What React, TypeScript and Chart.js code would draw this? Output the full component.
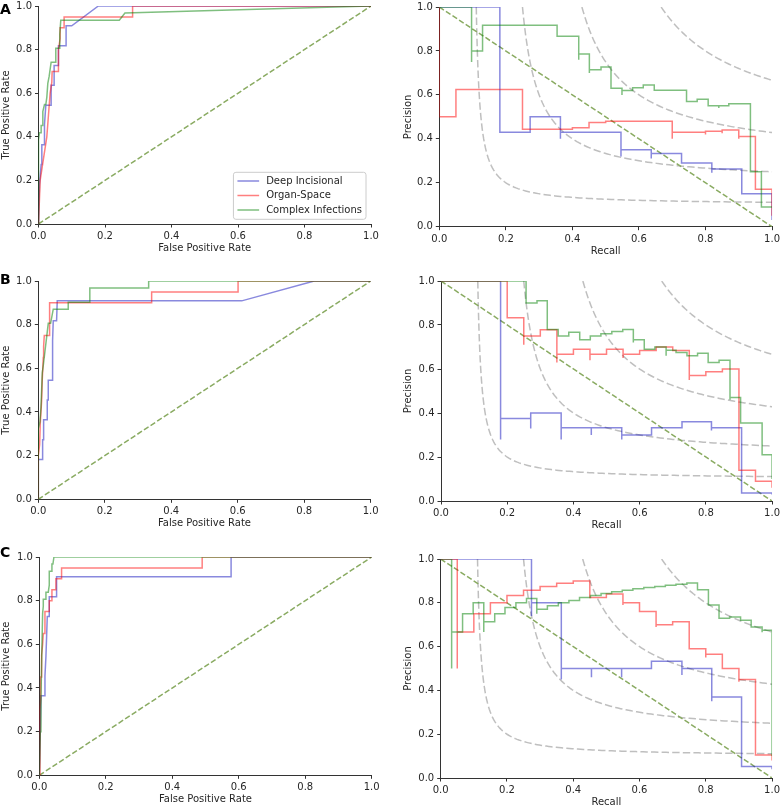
import React, { useEffect, useRef } from 'react';
import { Chart, registerables } from 'chart.js';

Chart.register(...registerables);

type Pt = [number, number];

// ---------- data ----------
const SERIES_LABELS = ['Deep Incisional', 'Organ-Space', 'Complex Infections'];
const AXIS_TICK_STEP = 0.2;
const F1_LEVELS = [0.2, 0.4, 0.6, 0.8];
const ROC_DIAGONAL: Pt[] = [[0, 0], [1, 1]];
const PR_DIAGONAL: Pt[] = [[0, 1], [1, 0]];

// ROC curves: [false positive rate, true positive rate]
const ROC_A_DEEP: Pt[] = [[0, 0], [0.003, 0.182], [0.008, 0.273], [0.01, 0.364], [0.018, 0.364], [0.018, 0.455], [0.022, 0.545], [0.038, 0.545], [0.038, 0.636], [0.047, 0.636], [0.047, 0.727], [0.06, 0.727], [0.06, 0.818], [0.083, 0.818], [0.083, 0.909], [0.1, 0.909], [0.18, 1], [1, 1]];
const ROC_A_ORGAN: Pt[] = [[0, 0], [0.005, 0.2], [0.015, 0.3], [0.025, 0.4], [0.03, 0.5], [0.035, 0.6], [0.04, 0.65], [0.041, 0.7], [0.06, 0.7], [0.06, 0.8], [0.065, 0.85], [0.065, 0.9], [0.077, 0.9], [0.077, 0.95], [0.283, 0.95], [0.283, 1], [1, 1]];
const ROC_A_COMPLEX: Pt[] = [[0, 0], [0, 0.387], [0.003, 0.419], [0.008, 0.419], [0.008, 0.452], [0.012, 0.452], [0.013, 0.516], [0.018, 0.548], [0.022, 0.548], [0.025, 0.581], [0.028, 0.645], [0.032, 0.677], [0.038, 0.742], [0.052, 0.742], [0.052, 0.806], [0.062, 0.806], [0.064, 0.871], [0.067, 0.935], [0.243, 0.935], [0.26, 0.968], [1, 1]];

const ROC_B_DEEP: Pt[] = [[0, 0], [0, 0.182], [0.013, 0.182], [0.013, 0.273], [0.016, 0.273], [0.016, 0.364], [0.027, 0.364], [0.027, 0.455], [0.03, 0.455], [0.03, 0.545], [0.043, 0.545], [0.043, 0.727], [0.045, 0.818], [0.055, 0.818], [0.057, 0.909], [0.612, 0.909], [0.83, 1], [1, 1]];
const ROC_B_ORGAN: Pt[] = [[0, 0], [0, 0.2], [0.004, 0.25], [0.006, 0.35], [0.01, 0.45], [0.012, 0.55], [0.015, 0.65], [0.016, 0.7], [0.018, 0.75], [0.033, 0.75], [0.033, 0.8], [0.035, 0.9], [0.341, 0.9], [0.341, 0.95], [0.601, 0.95], [0.601, 1], [1, 1]];
const ROC_B_COMPLEX: Pt[] = [[0, 0], [0, 0.323], [0.005, 0.355], [0.008, 0.42], [0.012, 0.58], [0.015, 0.613], [0.02, 0.677], [0.025, 0.742], [0.03, 0.806], [0.037, 0.806], [0.045, 0.871], [0.09, 0.871], [0.09, 0.903], [0.153, 0.903], [0.155, 0.968], [0.332, 0.968], [0.332, 1], [1, 1]];

const ROC_C_DEEP: Pt[] = [[0, 0], [0.005, 0.364], [0.017, 0.364], [0.017, 0.455], [0.02, 0.545], [0.022, 0.636], [0.024, 0.727], [0.03, 0.727], [0.03, 0.818], [0.052, 0.818], [0.052, 0.909], [0.577, 0.909], [0.577, 1], [1, 1]];
const ROC_C_ORGAN: Pt[] = [[0, 0], [0.002, 0.3], [0.004, 0.35], [0.004, 0.45], [0.007, 0.45], [0.007, 0.55], [0.01, 0.6], [0.012, 0.65], [0.017, 0.65], [0.017, 0.75], [0.03, 0.75], [0.03, 0.8], [0.038, 0.8], [0.038, 0.85], [0.05, 0.85], [0.05, 0.9], [0.067, 0.9], [0.067, 0.95], [0.49, 0.95], [0.49, 1], [1, 1]];
const ROC_C_COMPLEX: Pt[] = [[0, 0], [0.003, 0.2], [0.005, 0.35], [0.008, 0.6], [0.01, 0.742], [0.012, 0.774], [0.012, 0.806], [0.02, 0.806], [0.02, 0.839], [0.027, 0.839], [0.03, 0.871], [0.03, 0.935], [0.036, 0.935], [0.038, 0.968], [0.041, 0.968], [0.044, 1], [1, 1]];

// Precision-recall curves (step vertices): [recall, precision]
const PR_A_DEEP: Pt[] = [[0, 1], [0.182, 1], [0.182, 0.43], [0.273, 0.43], [0.273, 0.5], [0.364, 0.5], [0.364, 0.4], [0.364, 0.43], [0.546, 0.43], [0.546, 0.32], [0.546, 0.35], [0.637, 0.35], [0.637, 0.31], [0.637, 0.333], [0.728, 0.333], [0.728, 0.29], [0.819, 0.29], [0.819, 0.245], [0.819, 0.263], [0.909, 0.263], [0.909, 0.15], [1, 0.15], [1, 0.03]];
const PR_A_ORGAN: Pt[] = [[0, 1], [0, 0.5], [0.05, 0.5], [0.05, 0.625], [0.25, 0.625], [0.25, 0.444], [0.4, 0.444], [0.4, 0.45], [0.45, 0.45], [0.45, 0.474], [0.5, 0.474], [0.5, 0.48], [0.7, 0.48], [0.7, 0.4], [0.7, 0.43], [0.8, 0.43], [0.8, 0.42], [0.8, 0.435], [0.85, 0.435], [0.85, 0.425], [0.85, 0.44], [0.9, 0.44], [0.9, 0.4], [0.9, 0.41], [0.95, 0.41], [0.95, 0.17], [1, 0.17], [1, 0.05]];
const PR_A_COMPLEX: Pt[] = [[0, 1], [0.097, 1], [0.097, 0.75], [0.097, 0.8], [0.13, 0.8], [0.13, 0.917], [0.354, 0.917], [0.354, 0.867], [0.419, 0.867], [0.419, 0.76], [0.419, 0.786], [0.451, 0.786], [0.451, 0.7], [0.451, 0.714], [0.486, 0.714], [0.486, 0.727], [0.516, 0.727], [0.516, 0.63], [0.549, 0.63], [0.549, 0.6], [0.549, 0.62], [0.581, 0.62], [0.581, 0.633], [0.613, 0.633], [0.613, 0.645], [0.646, 0.645], [0.646, 0.621], [0.743, 0.621], [0.743, 0.57], [0.775, 0.57], [0.775, 0.58], [0.808, 0.58], [0.808, 0.55], [0.84, 0.55], [0.84, 0.54], [0.84, 0.55], [0.87, 0.55], [0.87, 0.56], [0.935, 0.56], [0.935, 0.25], [0.968, 0.25], [0.968, 0.09], [1, 0.09]];

const PR_B_DEEP: Pt[] = [[0, 1], [0.18, 1], [0.18, 0.28], [0.18, 0.375], [0.271, 0.375], [0.271, 0.33], [0.271, 0.4], [0.363, 0.4], [0.363, 0.28], [0.363, 0.333], [0.454, 0.333], [0.454, 0.3], [0.454, 0.333], [0.546, 0.333], [0.546, 0.28], [0.546, 0.3], [0.636, 0.3], [0.636, 0.333], [0.728, 0.333], [0.728, 0.36], [0.817, 0.36], [0.817, 0.32], [0.817, 0.333], [0.908, 0.333], [0.908, 0.036], [1, 0.036], [1, 0.03]];
const PR_B_ORGAN: Pt[] = [[0, 1], [0.2, 1], [0.2, 0.833], [0.25, 0.833], [0.25, 0.71], [0.25, 0.75], [0.3, 0.75], [0.3, 0.778], [0.35, 0.778], [0.35, 0.63], [0.35, 0.667], [0.4, 0.667], [0.4, 0.69], [0.45, 0.69], [0.45, 0.64], [0.45, 0.667], [0.5, 0.667], [0.5, 0.69], [0.55, 0.69], [0.55, 0.65], [0.55, 0.667], [0.6, 0.667], [0.6, 0.684], [0.65, 0.684], [0.65, 0.7], [0.7, 0.7], [0.7, 0.684], [0.75, 0.684], [0.75, 0.55], [0.75, 0.57], [0.8, 0.57], [0.8, 0.588], [0.85, 0.588], [0.85, 0.6], [0.9, 0.6], [0.9, 0.14], [0.95, 0.14], [0.95, 0.09], [1, 0.09], [1, 0.06]];
const PR_B_COMPLEX: Pt[] = [[0, 1], [0.257, 1], [0.257, 0.9], [0.29, 0.9], [0.29, 0.91], [0.321, 0.91], [0.321, 0.78], [0.354, 0.78], [0.354, 0.75], [0.386, 0.75], [0.386, 0.767], [0.419, 0.767], [0.419, 0.733], [0.451, 0.733], [0.451, 0.75], [0.483, 0.75], [0.483, 0.76], [0.516, 0.76], [0.516, 0.77], [0.549, 0.77], [0.549, 0.78], [0.581, 0.78], [0.581, 0.72], [0.581, 0.733], [0.614, 0.733], [0.614, 0.69], [0.646, 0.69], [0.646, 0.7], [0.68, 0.7], [0.68, 0.66], [0.68, 0.685], [0.71, 0.685], [0.71, 0.675], [0.743, 0.675], [0.743, 0.66], [0.775, 0.66], [0.775, 0.672], [0.807, 0.672], [0.807, 0.63], [0.84, 0.63], [0.84, 0.64], [0.873, 0.64], [0.873, 0.46], [0.873, 0.47], [0.905, 0.47], [0.905, 0.355], [0.97, 0.355], [0.97, 0.21], [1, 0.21], [1, 0.1]];

const PR_C_DEEP: Pt[] = [[0, 1], [0.274, 1], [0.274, 0.74], [0.274, 0.8], [0.364, 0.8], [0.364, 0.45], [0.364, 0.5], [0.455, 0.5], [0.455, 0.46], [0.455, 0.5], [0.546, 0.5], [0.546, 0.46], [0.546, 0.5], [0.636, 0.5], [0.636, 0.533], [0.728, 0.533], [0.728, 0.47], [0.728, 0.5], [0.818, 0.5], [0.818, 0.35], [0.818, 0.37], [0.908, 0.37], [0.908, 0.053], [1, 0.053], [1, 0.04]];
const PR_C_ORGAN: Pt[] = [[0, 1], [0.05, 1], [0.05, 0.5], [0.05, 0.667], [0.1, 0.667], [0.1, 0.75], [0.15, 0.75], [0.15, 0.8], [0.2, 0.8], [0.2, 0.833], [0.25, 0.833], [0.25, 0.857], [0.3, 0.857], [0.3, 0.875], [0.35, 0.875], [0.35, 0.889], [0.4, 0.889], [0.4, 0.9], [0.45, 0.9], [0.45, 0.824], [0.5, 0.824], [0.5, 0.84], [0.55, 0.84], [0.55, 0.79], [0.55, 0.8], [0.6, 0.8], [0.6, 0.76], [0.65, 0.76], [0.65, 0.69], [0.65, 0.7], [0.7, 0.7], [0.7, 0.714], [0.75, 0.714], [0.75, 0.59], [0.8, 0.59], [0.8, 0.55], [0.8, 0.565], [0.85, 0.565], [0.85, 0.5], [0.9, 0.5], [0.9, 0.44], [0.9, 0.45], [0.95, 0.45], [0.95, 0.105], [1, 0.105], [1, 0.08]];
const PR_C_COMPLEX: Pt[] = [[0, 1], [0.033, 1], [0.033, 0.5], [0.033, 0.667], [0.066, 0.667], [0.066, 0.75], [0.098, 0.75], [0.098, 0.8], [0.13, 0.8], [0.13, 0.667], [0.13, 0.714], [0.163, 0.714], [0.163, 0.75], [0.194, 0.75], [0.194, 0.778], [0.227, 0.778], [0.227, 0.8], [0.259, 0.8], [0.259, 0.82], [0.29, 0.82], [0.29, 0.75], [0.29, 0.77], [0.322, 0.77], [0.322, 0.786], [0.355, 0.786], [0.355, 0.8], [0.387, 0.8], [0.387, 0.81], [0.419, 0.81], [0.419, 0.824], [0.452, 0.824], [0.452, 0.833], [0.484, 0.833], [0.484, 0.842], [0.516, 0.842], [0.516, 0.85], [0.548, 0.85], [0.548, 0.857], [0.58, 0.857], [0.58, 0.864], [0.613, 0.864], [0.613, 0.87], [0.646, 0.87], [0.646, 0.875], [0.678, 0.875], [0.678, 0.88], [0.71, 0.88], [0.71, 0.885], [0.743, 0.885], [0.743, 0.89], [0.775, 0.89], [0.775, 0.86], [0.808, 0.86], [0.808, 0.79], [0.84, 0.79], [0.84, 0.73], [0.872, 0.73], [0.872, 0.735], [0.905, 0.735], [0.905, 0.72], [0.937, 0.72], [0.937, 0.69], [0.97, 0.69], [0.97, 0.665], [0.97, 0.675], [1, 0.675], [1, 0.1]];

// ---------- styles / layout ----------
const FONT = '"DejaVu Sans", sans-serif';
const SERIES_COLORS = ['rgba(20,20,190,0.5)', 'rgba(255,0,0,0.5)', 'rgba(0,128,0,0.5)'];
const DIAG_COLOR = '#8aab62';
const ISO_COLOR = 'rgba(128,128,128,0.5)';
const TEXT_COLOR = '#262626';
const AXIS_COLOR = '#333333';
const X_AXIS_H = 30.5;
const TICK_FONT = 10;
const TITLE_FONT = 10;
const LEGEND_FONT = 10;

type PanelSpec = {
  kind: 'roc' | 'pr';
  col: 0 | 1;
  area: { l: number; r: number; t: number; b: number };
  series: Pt[][];
  legend: boolean;
};

const PANELS: PanelSpec[] = [
  { kind: 'roc', col: 0, area: { l: 38.5, r: 371, t: 4.7, b: 224 }, series: [ROC_A_DEEP, ROC_A_ORGAN, ROC_A_COMPLEX], legend: true },
  { kind: 'pr', col: 1, area: { l: 439.3, r: 773.3, t: 5, b: 226.7 }, series: [PR_A_DEEP, PR_A_ORGAN, PR_A_COMPLEX], legend: false },
  { kind: 'roc', col: 0, area: { l: 38.3, r: 370.7, t: 279.3, b: 499.3 }, series: [ROC_B_DEEP, ROC_B_ORGAN, ROC_B_COMPLEX], legend: false },
  { kind: 'pr', col: 1, area: { l: 441, r: 775, t: 279.7, b: 501 }, series: [PR_B_DEEP, PR_B_ORGAN, PR_B_COMPLEX], legend: false },
  { kind: 'roc', col: 0, area: { l: 39.3, r: 371.7, t: 555.3, b: 775.3 }, series: [ROC_C_DEEP, ROC_C_ORGAN, ROC_C_COMPLEX], legend: false },
  { kind: 'pr', col: 1, area: { l: 440.7, r: 775, t: 557, b: 778 }, series: [PR_C_DEEP, PR_C_ORGAN, PR_C_COMPLEX], legend: false },
];

const LETTERS = [
  { text: 'A', top: 1.7 },
  { text: 'B', top: 271.7 },
  { text: 'C', top: 545 },
];

const toXY = (pts: Pt[]) => pts.map(([x, y]) => ({ x, y }));

function isoF1Curve(f: number) {
  const x0 = f / (2 - f);
  const pts: { x: number; y: number }[] = [];
  const n = 120;
  for (let i = 0; i <= n; i++) {
    const x = x0 + (1 - x0) * Math.pow(i / n, 2);
    pts.push({ x, y: (f * x) / (2 * x - f) });
  }
  return pts;
}

const boxLegend = {
  id: 'boxLegend',
  afterDatasetsDraw(chart: any, _args: any, opts: any) {
    if (!opts || !opts.show) return;
    const { ctx, chartArea } = chart;
    const items = SERIES_LABELS.map((label, i) => ({ label, color: SERIES_COLORS[i] }));
    ctx.save();
    ctx.font = `${LEGEND_FONT}px ${FONT}`;
    const textW = Math.max(...items.map((it) => ctx.measureText(it.label).width));
    const padL = 4, handle = 21.7, gap = 7, padR = 4, rowH = 14.5, h = 47;
    const w = padL + handle + gap + textW + padR;
    const x = chartArea.right - 5 - w;
    const y = chartArea.bottom - 4.7 - h;
    ctx.beginPath();
    if (ctx.roundRect) ctx.roundRect(x, y, w, h, 2.5);
    else ctx.rect(x, y, w, h);
    ctx.fillStyle = 'rgba(255,255,255,0.8)';
    ctx.fill();
    ctx.strokeStyle = '#cccccc';
    ctx.lineWidth = 1;
    ctx.stroke();
    items.forEach((it, i) => {
      const cy = y + 8.7 + i * rowH;
      ctx.beginPath();
      ctx.moveTo(x + padL, cy);
      ctx.lineTo(x + padL + handle, cy);
      ctx.strokeStyle = it.color;
      ctx.lineWidth = 1.5;
      ctx.stroke();
      ctx.fillStyle = TEXT_COLOR;
      ctx.textBaseline = 'middle';
      ctx.textAlign = 'left';
      ctx.fillText(it.label, x + padL + handle + gap, cy);
    });
    ctx.restore();
  },
};

function Panel({ p }: { p: PanelSpec }) {
  const ref = useRef<HTMLCanvasElement>(null);
  const canvasLeft = p.col === 0 ? 0 : 402;
  const canvasW = p.col === 0 ? 385 : 381;
  const canvasTop = Math.floor(p.area.t) - 7;
  const canvasH = Math.ceil(p.area.b + X_AXIS_H + 1 - canvasTop);
  const padding = {
    left: 0,
    top: p.area.t - canvasTop,
    right: canvasW - (p.area.r - canvasLeft),
    bottom: canvasH - (p.area.b + X_AXIS_H - canvasTop),
  };
  const yW = p.area.l - canvasLeft;

  useEffect(() => {
    if (!ref.current) return;
    const isRoc = p.kind === 'roc';
    const curveSets = [2, 1, 0].map((i) => ({
      label: SERIES_LABELS[i],
      data: toXY(p.series[i]),
      borderColor: SERIES_COLORS[i],
      backgroundColor: SERIES_COLORS[i],
      borderWidth: 1.5,
      pointRadius: 0,
      fill: false,
      tension: 0,
    }));
    const refSets: any[] = [];
    refSets.push({
      label: 'diagonal',
      data: toXY(isRoc ? ROC_DIAGONAL : PR_DIAGONAL),
      borderColor: DIAG_COLOR,
      borderWidth: 1.5,
      borderDash: [5.5, 2.4],
      pointRadius: 0,
      fill: false,
    });
    if (!isRoc) {
      F1_LEVELS.forEach((f) =>
        refSets.push({
          label: `iso-F1 ${f}`,
          data: isoF1Curve(f),
          borderColor: ISO_COLOR,
          borderWidth: 1.5,
          borderDash: [7.4, 3.2],
          pointRadius: 0,
          fill: false,
        })
      );
    }
    const mkScale = (title: string, isX: boolean) => ({
      type: 'linear',
      min: 0,
      max: 1,
      ticks: {
        stepSize: AXIS_TICK_STEP,
        autoSkip: false,
        maxRotation: 0,
        color: TEXT_COLOR,
        font: { family: FONT, size: TICK_FONT },
        padding: 3,
        callback: (v: any) => Number(v).toFixed(1),
      },
      grid: { display: true, drawOnChartArea: false, drawTicks: true, tickLength: 3.5, tickWidth: 1, tickColor: AXIS_COLOR },
      border: { display: true, color: AXIS_COLOR, width: 1 },
      title: {
        display: true,
        text: title,
        color: TEXT_COLOR,
        font: { family: FONT, size: TITLE_FONT },
        padding: isX ? { top: 0, bottom: 0 } : { top: 0.8, bottom: 0 },
      },
      afterFit: (s: any) => {
        if (isX) s.height = X_AXIS_H;
        else s.width = yW;
      },
    });
    const chart = new Chart(ref.current, {
      type: 'line',
      data: { datasets: [...curveSets, ...refSets] as any },
      options: {
        responsive: false,
        maintainAspectRatio: false,
        animation: false,
        devicePixelRatio: 1,
        layout: { padding },
        events: [],
        scales: {
          x: mkScale(isRoc ? 'False Positive Rate' : 'Recall', true) as any,
          y: mkScale(isRoc ? 'True Positive Rate' : 'Precision', false) as any,
        },
        plugins: {
          legend: { display: false },
          tooltip: { enabled: false },
          boxLegend: { show: p.legend },
        } as any,
      },
      plugins: [boxLegend as any],
    });
    return () => chart.destroy();
  }, []);

  return (
    <canvas
      ref={ref}
      width={canvasW}
      height={canvasH}
      style={{ position: 'absolute', left: canvasLeft, top: canvasTop, width: canvasW, height: canvasH, display: 'block' }}
    />
  );
}

export default function App() {
  return (
    <div style={{ position: 'absolute', left: 0, top: 0, width: 783, height: 808, overflow: 'hidden', background: '#ffffff' }}>
      {PANELS.map((p, i) => (
        <Panel key={i} p={p} />
      ))}
      {LETTERS.map((l) => (
        <div
          key={l.text}
          style={{ position: 'absolute', left: 0, top: l.top, fontFamily: FONT, fontWeight: 'bold', fontSize: 14, lineHeight: '14px', color: '#000' }}
        >
          {l.text}
        </div>
      ))}
    </div>
  );
}
